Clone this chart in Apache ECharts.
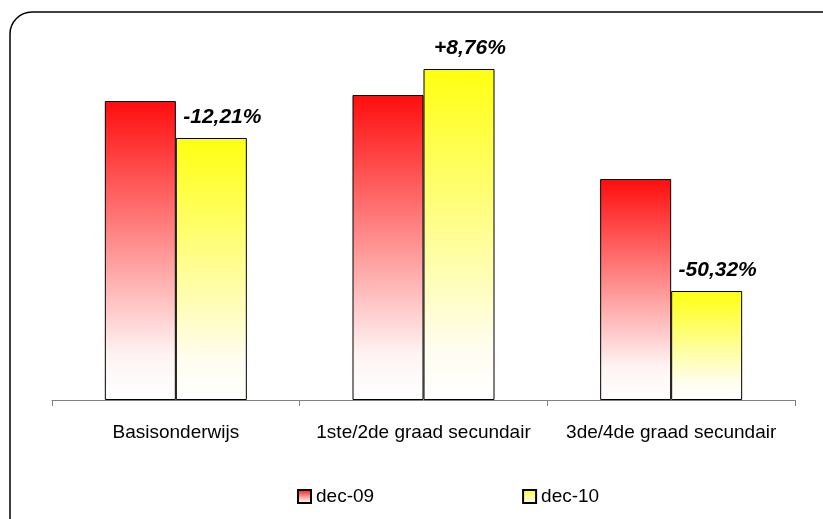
<!DOCTYPE html>
<html>
<head>
<meta charset="utf-8">
<script src="https://cdn.jsdelivr.net/npm/echarts@6/dist/echarts.min.js"></script>
<style>
html,body{margin:0;padding:0;background:#fff;}
#chart{width:823px;height:519px;}
</style>
</head>
<body>
<div id="chart"></div>
<script>
var categories = ['Basisonderwijs', '1ste/2de graad secundair', '3de/4de graad secundair'];
var dec09 = [299, 305, 221];
var dec10 = [262, 331, 109];
var changeLabels = ['-12,21%', '+8,76%', '-50,32%'];
var seriesNames = ['dec-09', 'dec-10'];

var FONT = '"Liberation Sans", Arial, sans-serif';
function grad(c, mid) {
  return new echarts.graphic.LinearGradient(0, 0, 0, 1, [
    {offset: 0, color: c},
    {offset: 0.85, color: mid},
    {offset: 1, color: '#ffffff'}
  ]);
}

var chart = echarts.init(document.getElementById('chart'), null, {renderer: 'canvas'});
chart.setOption({
  backgroundColor: '#ffffff',
  animation: false,
  graphic: [{
    type: 'rect',
    shape: {x: 10, y: 12, width: 840, height: 540, r: 22},
    style: {fill: 'none', stroke: '#000', lineWidth: 1.5},
    z: -1
  }],
  grid: {left: 52, right: 28, top: 40, bottom: 119},
  legend: {
    left: 292,
    top: 482,
    itemWidth: 13,
    itemHeight: 13,
    itemGap: 148,
    icon: 'rect',
    textStyle: {fontFamily: FONT, fontSize: 19, color: '#000'},
    data: seriesNames
  },
  xAxis: {
    type: 'category',
    data: categories,
    boundaryGap: true,
    axisLine: {lineStyle: {color: '#808080', width: 1}},
    axisTick: {show: true, alignWithLabel: false, length: 6, lineStyle: {color: '#808080'}},
    axisLabel: {fontFamily: FONT, fontSize: 19, color: '#000', margin: 23, interval: 0}
  },
  yAxis: {
    type: 'value',
    min: 0,
    max: 360,
    show: false,
    splitLine: {show: false}
  },
  series: [{
    name: seriesNames[0],
    type: 'bar',
    data: dec09,
    barWidth: 71,
    barGap: '0%',
    itemStyle: {color: grad('#ff0d0d', '#fff3f3'), borderColor: '#000', borderWidth: 1}
  }, {
    name: seriesNames[1],
    type: 'bar',
    data: dec10,
    barWidth: 71,
    barGap: '0%',
    itemStyle: {color: grad('#ffff10', '#fffdf0'), borderColor: '#000', borderWidth: 1},
    label: {
      show: true,
      position: 'top',
      offset: [11, -5],
      fontFamily: FONT,
      fontSize: 21,
      fontWeight: 'bold',
      fontStyle: 'italic',
      color: '#000',
      formatter: function (p) { return changeLabels[p.dataIndex]; }
    }
  }]
});
</script>
</body>
</html>
